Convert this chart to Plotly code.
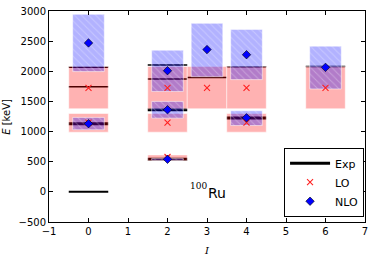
import plotly.graph_objects as go

# ---- data ----
exp_I = [0, 0, 0, 0, 2, 2, 2, 2, 3, 4, 4, 6]
exp_E = [0, 1130, 1745, 2065, 540, 1362, 1870, 2105, 1895, 1227, 2075, 2078]
exp_N = [0, 2, 3, 3, 1, 2, 3, 3, 3, 2, 3, 3]   # phonon-like grouping

lo_I = [0, 0, 2, 2, 2, 3, 4, 4, 6]
lo_E = [1150, 1725, 578, 1150, 1725, 1725, 1150, 1725, 1725]
lo_low = [990, 1378, 515, 990, 1378, 1378, 990, 1378, 1378]
lo_high = [1300, 2080, 612, 1300, 2080, 2080, 1300, 2080, 2080]

nlo_I = [0, 0, 2, 2, 2, 3, 4, 4, 6]
nlo_E = [1130, 2470, 540, 1362, 2010, 2360, 1228, 2275, 2065]
nlo_low = [1030, 1995, 525, 1223, 1665, 1910, 1100, 1862, 1707]
nlo_high = [1235, 2945, 555, 1500, 2350, 2795, 1345, 2695, 2417]

x_ticks = [-1, 0, 1, 2, 3, 4, 5, 6, 7]
y_ticks = [-500, 0, 500, 1000, 1500, 2000, 2500, 3000]

# ---- styles ----
width_by_N = {0: 2, 1: 3, 2: 3, 3: 1.5}
FONT = "DejaVu Sans"

fig = go.Figure()

# experimental levels (drawn first, under boxes)
first_exp = True
for w in sorted(set(width_by_N.values()), reverse=True):
    xs, ys = [], []
    for i, e, n in zip(exp_I, exp_E, exp_N):
        if width_by_N[n] == w:
            xs += [i - 0.5, i + 0.5, None]
            ys += [e, e, None]
    fig.add_trace(go.Scatter(
        x=xs, y=ys, mode="lines", line=dict(color="black", width=w),
        name="Exp", legendgroup="exp", showlegend=first_exp, legendrank=1,
        hoverinfo="skip"))
    first_exp = False

# LO uncertainty boxes
for i, lo, hi in zip(lo_I, lo_low, lo_high):
    fig.add_trace(go.Scatter(
        x=[i - 0.5, i + 0.5, i + 0.5, i - 0.5, i - 0.5],
        y=[lo, lo, hi, hi, lo], mode="lines", fill="toself",
        fillcolor="rgba(255,0,0,0.3)",
        line=dict(color="rgba(255,255,255,0.5)", width=1),
        showlegend=False, hoverinfo="skip"))

# NLO uncertainty boxes (hatched)
for i, lo, hi in zip(nlo_I, nlo_low, nlo_high):
    fig.add_trace(go.Scatter(
        x=[i - 0.4, i + 0.4, i + 0.4, i - 0.4, i - 0.4],
        y=[lo, lo, hi, hi, lo], mode="lines", fill="toself",
        fillcolor="rgba(0,0,255,0.3)",
        fillpattern=dict(shape="\\", bgcolor="rgba(0,0,255,0.3)",
                         fgcolor="rgba(255,255,255,0.55)", size=5, solidity=0.2),
        line=dict(color="rgba(255,255,255,0.5)", width=1),
        showlegend=False, hoverinfo="skip"))

# LO points
fig.add_trace(go.Scatter(
    x=lo_I, y=lo_E, mode="markers", name="LO", legendrank=2,
    marker=dict(symbol="x-thin", size=6, color="#ff2020",
                line=dict(color="#ff2020", width=1.1)),
    hoverinfo="skip"))

# NLO points
fig.add_trace(go.Scatter(
    x=nlo_I, y=nlo_E, mode="markers", name="NLO", legendrank=3,
    marker=dict(symbol="diamond", size=6.5, color="blue",
                line=dict(color="black", width=0.6)),
    hoverinfo="skip"))

fig.add_annotation(x=2.53, y=95, xref="x", yref="y", text="100",
                   showarrow=False, xanchor="left", yanchor="middle",
                   font=dict(family="DejaVu Serif", size=9, color="black"))
fig.add_annotation(x=2.98, y=-15, xref="x", yref="y", text="Ru",
                   showarrow=False, xanchor="left", yanchor="middle",
                   font=dict(family=FONT, size=14, color="black"))

# axis titles as annotations
fig.add_annotation(x=-0.135, y=0.5, xref="paper", yref="paper",
                   text="<i>E</i> [keV]", textangle=-90, showarrow=False,
                   xanchor="center", yanchor="middle",
                   font=dict(family=FONT, size=10, color="black"))
fig.add_annotation(x=0.5, y=-0.1, xref="paper", yref="paper",
                   text="<i>I</i>", showarrow=False,
                   xanchor="center", yanchor="top",
                   font=dict(family="DejaVu Serif", size=10, color="black"))

axis_common = dict(showgrid=False, zeroline=False, showline=True,
                   linecolor="black", linewidth=1, mirror="allticks",
                   ticks="inside", ticklen=4, tickcolor="black",
                   automargin=False,
                   tickfont=dict(family=FONT, size=10, color="black"))

fig.update_xaxes(range=[-1, 7], tickvals=x_ticks, **axis_common)
fig.update_yaxes(range=[-500, 3000], tickvals=y_ticks, **axis_common)

fig.update_layout(
    width=374, height=256,
    margin=dict(l=49, r=9, t=11, b=34),
    plot_bgcolor="white", paper_bgcolor="white",
    font=dict(family=FONT, size=10, color="black"),
    showlegend=True,
    legend=dict(x=0.997, y=0.025, xanchor="right", yanchor="bottom",
                bgcolor="white", bordercolor="black", borderwidth=1,
                font=dict(family=FONT, size=11, color="black"),
                itemwidth=40, tracegroupgap=0),
)

fig.write_html("out.html",
               config={"displayModeBar": False, "staticPlot": True},
               post_script="document.body.style.margin='0';"
                           "document.body.style.overflow='hidden';")
